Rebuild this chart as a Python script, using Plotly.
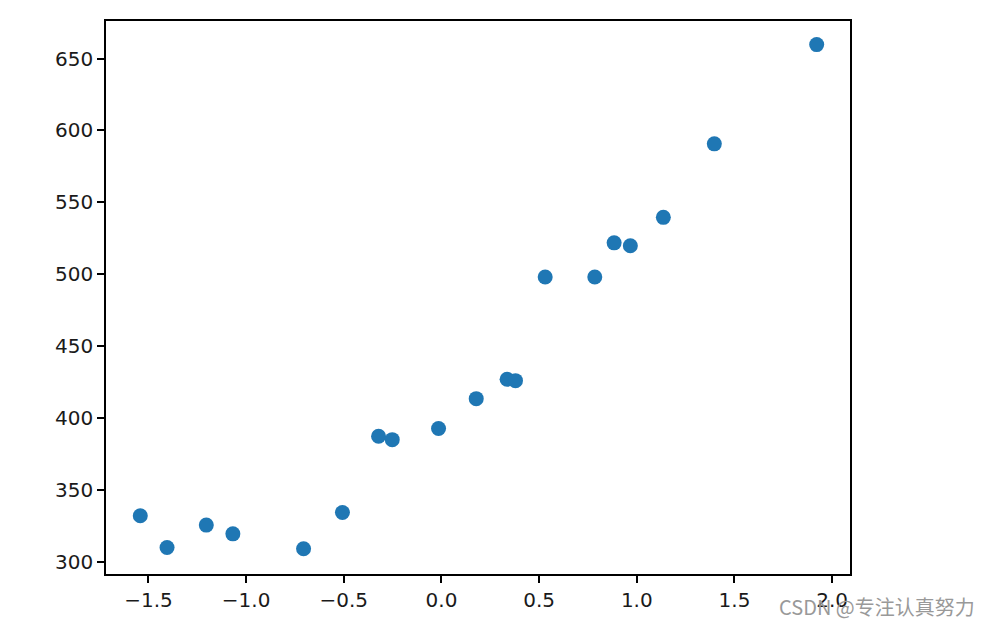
import plotly.graph_objects as go

# data
x_vals = [-1.542, -1.405, -1.204, -1.068, -0.706, -0.507, -0.322, -0.252, -0.015, 0.178,
          0.336, 0.379, 0.531, 0.785, 0.884, 0.967, 1.136, 1.397, 1.921]
y_vals = [332.2, 310.1, 325.7, 319.6, 309.2, 334.4, 387.5, 385.1, 392.8, 413.6,
          427.1, 426.1, 498.1, 498.1, 521.9, 519.9, 539.6, 590.7, 659.7]

x_ticks = [-1.5, -1.0, -0.5, 0.0, 0.5, 1.0, 1.5, 2.0]
x_ticklabels = ["\u22121.5", "\u22121.0", "\u22120.5", "0.0", "0.5", "1.0", "1.5", "2.0"]
y_ticks = [300, 350, 400, 450, 500, 550, 600, 650]
y_ticklabels = ["300", "350", "400", "450", "500", "550", "600", "650"]

x_range = [-1.7175, 2.0916]
y_range = [291.7, 676.1]

fig = go.Figure()
fig.add_trace(go.Scatter(
    x=x_vals, y=y_vals, mode="markers",
    marker=dict(color="#1f77b4", size=15, line=dict(width=0)),
    showlegend=False,
))

axis_common = dict(
    showgrid=False, zeroline=False, showline=True, mirror=True,
    linecolor="black", linewidth=1.6,
    ticks="outside", ticklen=7, tickwidth=1.6, tickcolor="black",
    tickfont=dict(family="DejaVu Sans", size=20, color="#1a1a1a"),
)

# page body has an 8px default margin, so the figure is 8px smaller and margins compensate
fig.update_layout(
    width=982, height=619,
    margin=dict(l=98, r=140, t=13, b=53),
    paper_bgcolor="white", plot_bgcolor="white",
    xaxis=dict(range=x_range, tickvals=x_ticks, ticktext=x_ticklabels, **axis_common),
    yaxis=dict(range=y_range, tickvals=y_ticks, ticktext=y_ticklabels, **axis_common),
)

fig.add_annotation(
    text="CSDN @专注认真努力", xref="paper", yref="paper",
    x=1.0, xanchor="right", xshift=127, y=0, yshift=-32, yanchor="middle",
    showarrow=False,
    font=dict(family="Noto Sans CJK SC", size=20, color="#999999"),
)

fig.write_html("out.html")
